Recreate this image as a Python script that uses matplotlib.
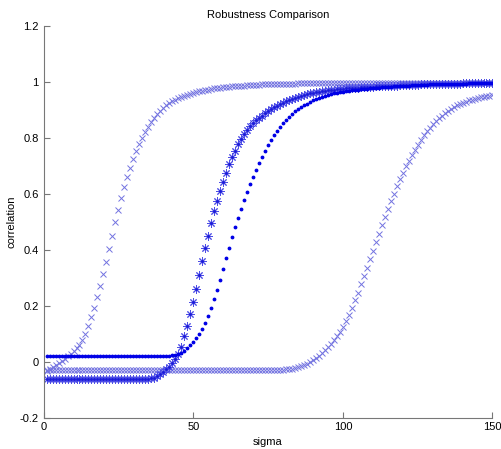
import numpy as np
from matplotlib import pyplot as plt

# sigma = 1..150
sigma = np.arange(1, 151)

# early riser ('x')
corr_a = [
    -0.033, -0.026, -0.019, -0.012, -0.005, 0.003, 0.011, 0.020, 0.029, 0.038,
    0.048, 0.060, 0.077, 0.100, 0.127, 0.158, 0.193, 0.231, 0.272, 0.314,
    0.358, 0.404, 0.451, 0.498, 0.542, 0.585, 0.624, 0.660, 0.693, 0.724,
    0.752, 0.777, 0.800, 0.821, 0.840, 0.857, 0.872, 0.885, 0.897, 0.907,
    0.916, 0.924, 0.931, 0.937, 0.942, 0.947, 0.951, 0.955, 0.958, 0.961,
    0.964, 0.967, 0.969, 0.971, 0.973, 0.975, 0.977, 0.978, 0.980, 0.981,
    0.982, 0.983, 0.984, 0.985, 0.986, 0.987, 0.987, 0.988, 0.989, 0.989,
    0.990, 0.990, 0.991, 0.991, 0.992, 0.992, 0.992, 0.993, 0.993, 0.993,
    0.994, 0.994, 0.994, 0.994, 0.995, 0.995, 0.995, 0.995, 0.995, 0.995,
    0.995, 0.996, 0.996, 0.996, 0.996, 0.996, 0.996, 0.996, 0.996, 0.996,
    0.996, 0.996, 0.997, 0.997, 0.997, 0.997, 0.997, 0.997, 0.997, 0.997,
    0.997, 0.997, 0.997, 0.997, 0.997, 0.997, 0.997, 0.997, 0.997, 0.997,
    0.998, 0.998, 0.998, 0.998, 0.998, 0.998, 0.998, 0.998, 0.998, 0.998,
    0.998, 0.998, 0.998, 0.998, 0.998, 0.998, 0.998, 0.998, 0.998, 0.998,
    0.998, 0.998, 0.998, 0.998, 0.998, 0.998, 0.998, 0.998, 0.998, 0.998,
]

# '*' series
corr_b = [
    -0.062, -0.062, -0.062, -0.062, -0.062, -0.062, -0.062, -0.062, -0.062, -0.062,
    -0.062, -0.062, -0.062, -0.062, -0.062, -0.062, -0.062, -0.062, -0.062, -0.062,
    -0.062, -0.062, -0.062, -0.062, -0.062, -0.062, -0.062, -0.062, -0.062, -0.062,
    -0.062, -0.062, -0.062, -0.062, -0.061, -0.060, -0.057, -0.052, -0.045, -0.037,
    -0.028, -0.018, -0.006, 0.008, 0.027, 0.054, 0.090, 0.128, 0.169, 0.214,
    0.260, 0.309, 0.359, 0.405, 0.451, 0.495, 0.537, 0.576, 0.611, 0.644,
    0.675, 0.705, 0.730, 0.754, 0.777, 0.797, 0.815, 0.830, 0.843, 0.853,
    0.863, 0.872, 0.880, 0.888, 0.895, 0.902, 0.909, 0.915, 0.921, 0.926,
    0.931, 0.936, 0.940, 0.944, 0.947, 0.950, 0.953, 0.956, 0.959, 0.961,
    0.963, 0.965, 0.967, 0.969, 0.971, 0.972, 0.973, 0.974, 0.975, 0.976,
    0.977, 0.978, 0.979, 0.980, 0.980, 0.981, 0.981, 0.982, 0.983, 0.983,
    0.984, 0.984, 0.985, 0.985, 0.986, 0.986, 0.987, 0.987, 0.988, 0.988,
    0.989, 0.989, 0.990, 0.990, 0.990, 0.991, 0.991, 0.991, 0.992, 0.992,
    0.992, 0.993, 0.993, 0.993, 0.993, 0.994, 0.994, 0.994, 0.994, 0.995,
    0.995, 0.995, 0.995, 0.995, 0.996, 0.996, 0.996, 0.996, 0.996, 0.996,
]

# '.' series
corr_c = [
    0.021, 0.021, 0.021, 0.021, 0.021, 0.021, 0.021, 0.021, 0.021, 0.021,
    0.021, 0.021, 0.021, 0.021, 0.021, 0.021, 0.021, 0.021, 0.021, 0.021,
    0.021, 0.021, 0.021, 0.021, 0.021, 0.021, 0.021, 0.021, 0.021, 0.021,
    0.021, 0.021, 0.021, 0.021, 0.021, 0.021, 0.021, 0.021, 0.021, 0.021,
    0.021, 0.021, 0.022, 0.024, 0.027, 0.032, 0.039, 0.048, 0.058, 0.070,
    0.083, 0.098, 0.116, 0.138, 0.164, 0.191, 0.223, 0.256, 0.292, 0.330,
    0.370, 0.408, 0.445, 0.481, 0.515, 0.547, 0.578, 0.606, 0.634, 0.660,
    0.686, 0.710, 0.733, 0.754, 0.774, 0.793, 0.810, 0.826, 0.840, 0.853,
    0.865, 0.876, 0.886, 0.895, 0.903, 0.910, 0.917, 0.923, 0.929, 0.934,
    0.939, 0.943, 0.947, 0.950, 0.953, 0.956, 0.959, 0.961, 0.963, 0.965,
    0.967, 0.969, 0.970, 0.972, 0.973, 0.974, 0.975, 0.976, 0.977, 0.978,
    0.979, 0.980, 0.981, 0.982, 0.983, 0.983, 0.984, 0.985, 0.986, 0.986,
    0.987, 0.987, 0.988, 0.988, 0.989, 0.989, 0.990, 0.990, 0.991, 0.991,
    0.991, 0.992, 0.992, 0.992, 0.993, 0.993, 0.993, 0.994, 0.994, 0.994,
    0.994, 0.995, 0.995, 0.995, 0.995, 0.995, 0.996, 0.996, 0.996, 0.996,
]

# late riser ('x')
corr_d = [
    -0.030, -0.030, -0.030, -0.030, -0.030, -0.030, -0.030, -0.030, -0.030, -0.030,
    -0.030, -0.030, -0.030, -0.030, -0.030, -0.030, -0.030, -0.030, -0.030, -0.030,
    -0.030, -0.030, -0.030, -0.030, -0.030, -0.030, -0.030, -0.030, -0.030, -0.030,
    -0.030, -0.030, -0.030, -0.030, -0.030, -0.030, -0.030, -0.030, -0.030, -0.030,
    -0.030, -0.030, -0.030, -0.030, -0.030, -0.030, -0.030, -0.030, -0.030, -0.030,
    -0.030, -0.030, -0.030, -0.030, -0.030, -0.030, -0.030, -0.030, -0.030, -0.030,
    -0.030, -0.030, -0.030, -0.030, -0.030, -0.030, -0.030, -0.030, -0.030, -0.030,
    -0.030, -0.030, -0.030, -0.030, -0.030, -0.030, -0.030, -0.030, -0.030, -0.029,
    -0.028, -0.027, -0.025, -0.023, -0.020, -0.016, -0.012, -0.007, -0.001, 0.006,
    0.013, 0.021, 0.030, 0.040, 0.051, 0.063, 0.076, 0.090, 0.106, 0.124,
    0.145, 0.168, 0.193, 0.219, 0.247, 0.276, 0.306, 0.336, 0.366, 0.397,
    0.428, 0.458, 0.488, 0.517, 0.546, 0.574, 0.601, 0.627, 0.652, 0.675,
    0.698, 0.719, 0.739, 0.758, 0.776, 0.793, 0.809, 0.823, 0.837, 0.849,
    0.860, 0.871, 0.880, 0.889, 0.897, 0.904, 0.910, 0.916, 0.921, 0.926,
    0.930, 0.934, 0.937, 0.940, 0.943, 0.945, 0.947, 0.949, 0.951, 0.953,
]

plt.rcParams['font.family'] = ['Liberation Sans', 'DejaVu Sans']

fig = plt.figure(figsize=(5.01, 4.49), dpi=100)
ax = fig.add_axes([0.087, 0.070, 0.896, 0.872])

light = (0.45, 0.45, 0.88)
ax.plot(sigma, corr_d, 'x', color=light, ms=4.5, mew=0.7)
ax.plot(sigma, corr_a, 'x', color=light, ms=4.5, mew=0.7)
# asterisk like matlab's '*'
ax.plot(sigma, corr_b, marker=(8, 2, 0), ls='none', color=(0.3, 0.3, 0.9),
        ms=6, mew=0.7)
ax.plot(sigma, corr_b, '.', color=(0.1, 0.1, 0.85), ms=2)
ax.plot(sigma, corr_c, '.', color=(0.0, 0.0, 0.9), ms=3.5)

ax.set_xlim(0, 150)
ax.set_ylim(-0.2, 1.2)
ax.set_xticks([0, 50, 100, 150])
ax.set_xticklabels(['0', '50', '100', '150'])
ax.set_yticks([-0.2, 0, 0.2, 0.4, 0.6, 0.8, 1, 1.2])
ax.set_yticklabels(['-0.2', '0', '0.2', '0.4', '0.6', '0.8', '1', '1.2'])

for s in ['top', 'right']:
    ax.spines[s].set_visible(False)
for s in ['left', 'bottom']:
    ax.spines[s].set_color('#777777')
    ax.spines[s].set_linewidth(0.8)
ax.tick_params(direction='in', length=4, width=0.8, color='#777777',
               labelsize=8, labelcolor='black')

ax.set_title('Robustness Comparison', fontsize=8, pad=6)
ax.set_xlabel('sigma', fontsize=8, labelpad=3)
ax.set_ylabel('correlation', fontsize=8, labelpad=2)

fig.savefig('out.png', dpi=100)
